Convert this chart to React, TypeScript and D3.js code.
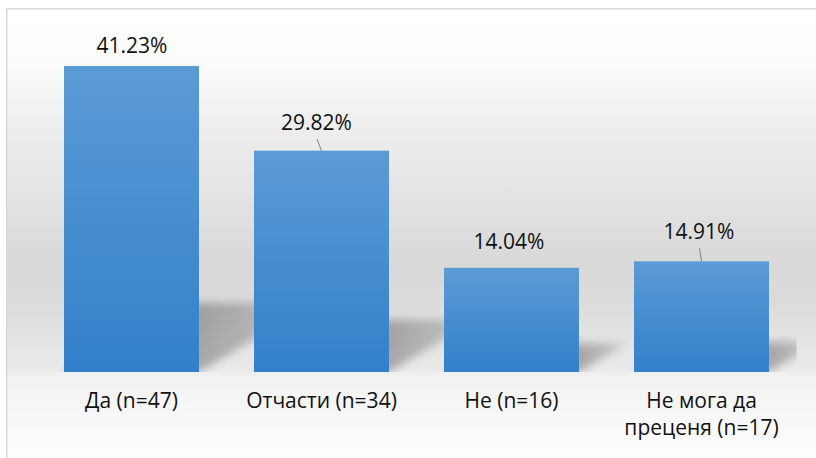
import React, { useEffect, useRef } from "react";
import * as d3 from "d3";

// Survey answers and their shares (percent of respondents)
const categories = ["Да (n=47)", "Отчасти (n=34)", "Не (n=16)", "Не мога да преценя (n=17)"];
const shares = [41.23, 29.82, 14.04, 14.91];
const yDomainMax = 45;

// Manual placement of the value labels above the bars (px)
const labelDx = [0.5, -5, -2.5, -2.5];
const labelLift = [12.7, 20.5, 18.7, 22];
const labelLeader = [false, true, false, true];

const W = 816;
const H = 458;
const plot = { left: 36.5, right: 796.5, top: 38, bottom: 372 };
const FONT = "'Open Sans', 'Noto Sans', sans-serif";

export default function App() {
  const ref = useRef<SVGSVGElement>(null);

  useEffect(() => {
    document.body.style.margin = "0";
    const svg = d3.select(ref.current);
    svg.selectAll("*").remove();
    const defs = svg.append("defs");

    // Chart area background: light wall fading to grey, lighter floor beneath the bars
    const bg = defs
      .append("linearGradient")
      .attr("id", "bgGrad")
      .attr("gradientUnits", "userSpaceOnUse")
      .attr("x1", 0)
      .attr("x2", 0)
      .attr("y1", 0)
      .attr("y2", H);
    const bgStops: [number, string][] = [
      [9, "#ffffff"],
      [60, "#fcfcfc"],
      [120, "#efefef"],
      [260, "#d9d9d9"],
      [300, "#dbdbdb"],
      [371.5, "#eaeaea"],
      [372.5, "#efefef"],
      [380, "#f2f2f2"],
      [458, "#fefefe"],
    ];
    bgStops.forEach(([yy, c]) =>
      bg.append("stop").attr("offset", yy / H).attr("stop-color", c)
    );

    const barGrad = defs
      .append("linearGradient")
      .attr("id", "barGrad")
      .attr("x1", 0)
      .attr("x2", 0)
      .attr("y1", 0)
      .attr("y2", 1);
    barGrad.append("stop").attr("offset", 0).attr("stop-color", "#5b9bd5");
    barGrad.append("stop").attr("offset", 1).attr("stop-color", "#3380ca");

    defs
      .append("filter")
      .attr("id", "shadowBlur")
      .attr("x", "-30%")
      .attr("y", "-30%")
      .attr("width", "160%")
      .attr("height", "160%")
      .append("feGaussianBlur")
      .attr("stdDeviation", 4);

    defs
      .append("clipPath")
      .attr("id", "plotClip")
      .append("rect")
      .attr("x", plot.left)
      .attr("y", 0)
      .attr("width", plot.right - plot.left)
      .attr("height", plot.bottom);

    // Frame
    svg
      .append("rect")
      .attr("x", 6.75)
      .attr("y", 8.75)
      .attr("width", W + 20)
      .attr("height", H + 20)
      .attr("fill", "url(#bgGrad)")
      .attr("stroke", "#d9d9d9")
      .attr("stroke-width", 1.5);

    const x = d3
      .scaleBand<string>()
      .domain(categories)
      .range([plot.left, plot.right])
      .paddingInner(55 / 190)
      .paddingOuter(55 / 380);
    const y = d3.scaleLinear().domain([0, yDomainMax]).range([plot.bottom, plot.top]);

    const rows = categories.map((c, i) => ({ cat: c, v: shares[i], i }));

    // Perspective shadows cast behind each bar
    const shadowG = svg.append("g").attr("clip-path", "url(#plotClip)");
    rows.forEach((d) => {
      const x0 = x(d.cat)!;
      const x1 = x0 + x.bandwidth();
      const yb = y(0);
      const h = yb - y(d.v);
      const kh = 0.2 * h + 8;
      const dx = 1.7 * kh;
      const gid = `shGrad${d.i}`;
      const g = defs
        .append("linearGradient")
        .attr("id", gid)
        .attr("gradientUnits", "userSpaceOnUse")
        .attr("x1", x1)
        .attr("x2", x1 + dx)
        .attr("y1", 0)
        .attr("y2", 0);
      g.append("stop").attr("offset", 0).attr("stop-color", "#000").attr("stop-opacity", 0.28);
      g.append("stop").attr("offset", 1).attr("stop-color", "#000").attr("stop-opacity", 0.1);
      const p = d3.path();
      p.moveTo(x0, yb);
      p.lineTo(x1, yb);
      p.lineTo(x1 + dx, yb - kh);
      p.lineTo(x0 + dx, yb - kh);
      p.closePath();
      shadowG
        .append("path")
        .attr("d", p.toString())
        .attr("fill", `url(#${gid})`)
        .attr("filter", "url(#shadowBlur)");
    });

    // Bars
    svg
      .append("g")
      .selectAll("rect")
      .data(rows)
      .join("rect")
      .attr("x", (d) => x(d.cat)!)
      .attr("y", (d) => y(d.v))
      .attr("width", x.bandwidth())
      .attr("height", (d) => y(0) - y(d.v))
      .attr("fill", "url(#barGrad)");

    // Value labels with leader lines
    const fmt = d3.format(".2f");
    const lab = svg.append("g");
    rows.forEach((d) => {
      const cx = x(d.cat)! + x.bandwidth() / 2;
      const lx = cx + labelDx[d.i];
      const base = y(d.v) - labelLift[d.i];
      if (labelLeader[d.i]) {
        lab
          .append("line")
          .attr("x1", lx + 0.5)
          .attr("y1", base + 9)
          .attr("x2", cx)
          .attr("y2", y(d.v))
          .attr("stroke", "#7f7f7f")
          .attr("stroke-width", 1);
      }
      lab
        .append("text")
        .attr("x", lx)
        .attr("y", base)
        .attr("text-anchor", "middle")
        .attr("font-family", FONT)
        .attr("font-size", 21)
        .attr("fill", "#111")
        .text(`${fmt(d.v)}%`);
    });

    // Category labels, wrapped to the band step
    const maxW = x.step() - 30;
    const cats = svg.append("g");
    rows.forEach((d) => {
      const cx = x(d.cat)! + x.bandwidth() / 2;
      const t = cats
        .append("text")
        .attr("x", cx)
        .attr("y", 408)
        .attr("text-anchor", "middle")
        .attr("font-family", FONT)
        .attr("font-size", 21)
        .attr("fill", "#111");
      const words = d.cat.split(" ");
      const lines: string[] = [];
      let cur: string[] = [];
      const probe = t.append("tspan");
      words.forEach((w) => {
        const trial = [...cur, w].join(" ");
        probe.text(trial);
        if (cur.length && (probe.node() as SVGTextContentElement).getComputedTextLength() > maxW) {
          lines.push(cur.join(" "));
          cur = [w];
        } else {
          cur.push(w);
        }
      });
      if (cur.length) lines.push(cur.join(" "));
      probe.remove();
      lines.forEach((ln, k) => {
        t.append("tspan")
          .attr("x", cx)
          .attr("dy", k === 0 ? 0 : 27)
          .text(ln);
      });
    });
  }, []);

  return <svg ref={ref} width={W} height={H} style={{ display: "block" }} />;
}
